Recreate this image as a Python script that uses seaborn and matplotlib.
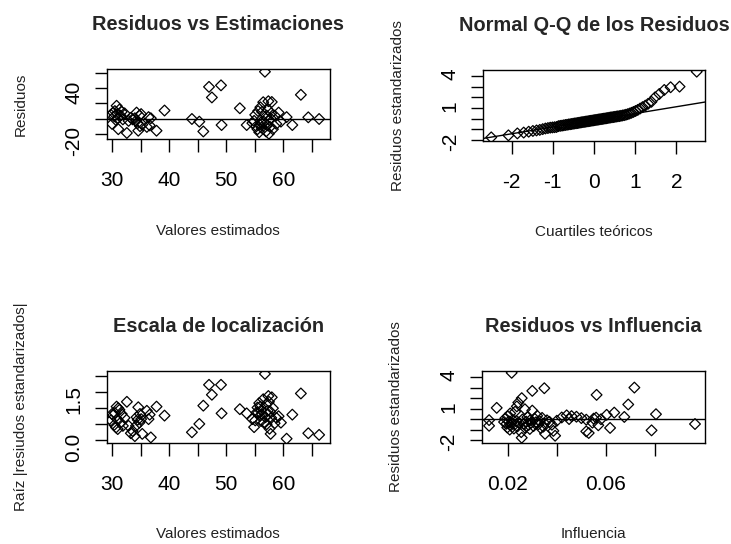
import numpy as np
import matplotlib
matplotlib.use("Agg")
import matplotlib.pyplot as plt
import seaborn as sns
from statistics import NormalDist

# fitted values (shared by the two "Valores estimados" panels)
fitted = [29.8, 30.0, 30.2, 30.4, 30.5, 30.7, 30.8, 30.9, 31.0, 31.1, 31.3, 31.5, 31.7, 31.9, 32.2, 32.6,
          32.9, 33.3, 33.6, 34.0, 34.2, 34.3, 34.5, 34.6, 34.8, 34.9, 35.1, 35.3,
          36.1, 36.4, 36.6, 36.8, 37.8, 39.2,
          44.0, 45.3, 46.0, 47.0, 47.5, 49.1, 49.2,
          52.4, 53.6, 54.6, 54.9, 55.1, 55.3, 55.5, 55.6, 55.8, 55.9, 56.0, 56.1, 56.2, 56.3, 56.5, 56.6,
          56.8, 56.9, 57.0, 57.1, 57.2, 57.3, 57.4, 57.5, 57.6, 57.7, 57.8, 57.9, 58.0, 58.2, 58.5, 58.8,
          59.2, 59.6,
          60.6, 61.6, 63.1, 64.4, 66.3]

residuos = [5, -7, 8, 3, 10, -2, 17, 6, 1, -14, 12, 4, 9, -1, 7, -19,
            -3, 1, -1, 0.5, -3, 8, -6, -16, 4, -10, 6, -8,
            -11, 2, -9, 0.5, -16, 10.7,
            -0.5, -4, -17, 42, 28, 44, -8.5,
            13.7, -8.5, -6, -3, 5, -10, -14, 10, -18, -8, 15, -5, -12, 9, 21.7, -4,
            62, -7, -17, 4, -9, 12, 23, -20, -2, -11, 0.5, 7, 22, -14, 4, -7,
            8, -4,
            2, -8.5, 31.5, 1.7, -0.5]

raiz_std = [0.62, 0.82, 0.78, 0.48, 0.85, 0.40, 1.05, 0.66, 0.35, 1.00, 0.95, 0.55, 0.82, 0.45, 0.70, 1.20,
            0.45, 0.22, 0.29, 0.13, 0.45, 0.72, 0.64, 1.03, 0.55, 0.82, 0.66, 0.20,
            0.92, 0.66, 0.80, 0.09, 1.05, 0.77,
            0.25, 0.51, 1.08, 1.73, 1.42, 1.73, 0.84,
            0.97, 0.84, 0.66, 0.41, 0.62, 0.86, 1.02, 0.86, 1.16, 0.76, 1.05, 0.60, 0.94, 0.80, 1.28, 0.55,
            2.07, 0.72, 1.12, 0.50, 0.80, 0.92, 1.38, 1.20, 0.36, 0.90, 0.20, 0.70, 1.34, 1.00, 0.53, 0.70,
            0.75, 0.55,
            0.05, 0.80, 1.46, 0.22, 0.17]

# standardized residuals and leverage (same points)
std_res = [4.40, 3.00, 2.94, 2.69, 2.31, 2.00, 1.58, 1.40, 1.22, 1.08,
           0.95, 0.82, 0.72, 0.63, 0.55, 0.48, 0.42, 0.37, 0.33, 0.30,
           0.27, 0.24, 0.22, 0.20, 0.17, 0.15, 0.13, 0.11, 0.09, 0.06,
           0.04, 0.02, 0.00, -0.02, -0.04, -0.06, -0.08, -0.10, -0.12, -0.14,
           -0.16, -0.18, -0.20, -0.22, -0.24, -0.26, -0.28, -0.30, -0.32, -0.34,
           -0.36, -0.39, -0.41, -0.43, -0.45, -0.47, -0.50, -0.52, -0.54, -0.57,
           -0.59, -0.62, -0.65, -0.67, -0.70, -0.78, -0.80, -0.82, -0.84, -0.88,
           -0.92, -0.98, -1.05, -1.10, -1.15, -1.22, -1.30, -1.38, -1.56, -1.75]

influencia = [0.0216, 0.0716, 0.0349, 0.0300, 0.0562, 0.0257, 0.0243, 0.0691, 0.0237, 0.0155,
              0.0270, 0.0300, 0.0230, 0.0634, 0.0210, 0.0804, 0.0603, 0.0440, 0.0320, 0.0460,
              0.0200, 0.0480, 0.0675, 0.0280, 0.0420, 0.0560, 0.0340, 0.0500, 0.0190, 0.0550,
              0.0310, 0.0450, 0.0580, 0.0260, 0.0520, 0.0220, 0.0124, 0.0360, 0.0290, 0.0400,
              0.0235, 0.0330, 0.0205, 0.0275, 0.0370, 0.0185, 0.0315, 0.0245, 0.0545, 0.0295,
              0.0215, 0.0350, 0.0265, 0.0195, 0.0963, 0.0325, 0.0228, 0.0380, 0.0285, 0.0569,
              0.0212, 0.0124, 0.0305, 0.0240, 0.0345, 0.0198, 0.0270, 0.0617, 0.0335, 0.0225,
              0.0290, 0.0208, 0.0786, 0.0386, 0.0520, 0.0255, 0.0530, 0.0352, 0.0393, 0.0257]

sns.set_theme(style="ticks")
plt.rcParams["font.family"] = ["Liberation Sans", "DejaVu Sans"]
plt.rcParams["axes.edgecolor"] = "black"
plt.rcParams["axes.linewidth"] = 1.0

fig = plt.figure(figsize=(7.31, 5.44), dpi=100)
ax1 = fig.add_axes([0.146, 0.7436, 0.3054, 0.1301])
ax2 = fig.add_axes([0.6612, 0.7414, 0.3033, 0.1300])
ax3 = fig.add_axes([0.146, 0.1862, 0.3054, 0.1318])
ax4 = fig.add_axes([0.659, 0.1862, 0.3055, 0.1318])

pts = dict(marker="D", s=30, color="black", facecolor="none", edgecolor="black",
           linewidth=0.9, legend=False)


def estilo(ax, title, xlabel, ylabel, xticks, xlabs, yticks, ylabs, xlim, ylim):
    ax.set_xlim(xlim)
    ax.set_ylim(ylim)
    ax.set_xticks(xticks, labels=xlabs)
    ax.set_yticks(yticks, labels=ylabs)
    ax.tick_params(axis="both", direction="out", length=9, width=1, labelsize=15,
                   colors="black")
    ax.tick_params(axis="x", pad=14)
    ax.tick_params(axis="y", pad=8, labelrotation=90)
    ax.set_title(title, fontsize=14.4, fontweight="bold", pad=28)
    ax.set_xlabel(xlabel, fontsize=11, labelpad=24, color="#222222")
    ax.set_ylabel(ylabel, fontsize=11, labelpad=26, color="#222222")


# Residuos vs Estimaciones
sns.scatterplot(x=fitted, y=residuos, ax=ax1, **pts)
ax1.axhline(0, color="black", lw=1)
estilo(ax1, "Residuos vs Estimaciones", "Valores estimados", "Residuos",
       [30, 35, 40, 45, 50, 55, 60, 65], ["30", "", "40", "", "50", "", "60", ""],
       [-20, 0, 20, 40, 60], ["-20", "", "", "40", ""],
       (29.07, 68.2), (-27.6, 66))

# Normal Q-Q
muestra = np.sort(np.array(std_res))
n = len(muestra)
nd = NormalDist()
teoricos = [nd.inv_cdf((i - 0.5) / n) for i in range(1, n + 1)]
sns.scatterplot(x=teoricos, y=muestra, ax=ax2, **pts)
q1, q3 = np.quantile(muestra, [0.25, 0.75])
t1, t3 = nd.inv_cdf(0.25), nd.inv_cdf(0.75)
pend = (q3 - q1) / (t3 - t1)
ax2.axline((0, q1 - pend * t1), slope=pend, color="black", lw=1)
estilo(ax2, "Normal Q-Q de los Residuos", "Cuartiles teóricos", "Residuos estandarizados",
       [-2, -1, 0, 1, 2], ["-2", "-1", "0", "1", "2"],
       [-2, -1, 0, 1, 2, 3, 4], ["-2", "", "", "1", "", "", "4"],
       (-2.69, 2.70), (-2.06, 4.56))

# Escala de localizacion
sns.scatterplot(x=fitted, y=raiz_std, ax=ax3, **pts)
estilo(ax3, "Escala de localización", "Valores estimados", "Raíz |resiudos estandarizados|",
       [30, 35, 40, 45, 50, 55, 60, 65], ["30", "", "40", "", "50", "", "60", ""],
       [0, 0.5, 1.0, 1.5, 2.0], ["0.0", "", "", "1.5", ""],
       (29.07, 68.2), (-0.075, 2.16))

# Residuos vs Influencia
sns.scatterplot(x=influencia, y=std_res, ax=ax4, **pts)
ax4.axhline(0, color="black", lw=1)
estilo(ax4, "Residuos vs Influencia", "Influencia", "Residuos estandarizados",
       [0.02, 0.04, 0.06, 0.08], ["0.02", "", "0.06", ""],
       [-2, -1, 0, 1, 2, 3, 4], ["-2", "", "", "1", "", "", "4"],
       (0.0094, 0.1004), (-2.22, 4.57))

fig.savefig("out.png", dpi=100, facecolor="white")
